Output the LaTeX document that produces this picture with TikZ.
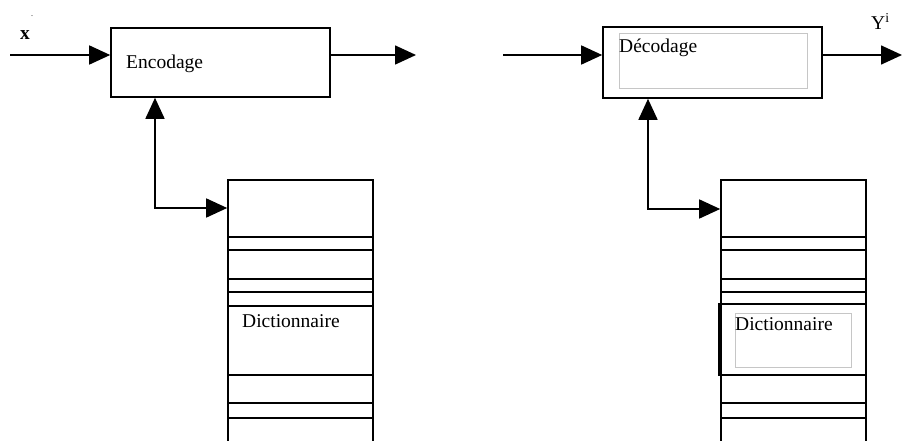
\documentclass[tikz,border=0pt]{standalone}
\usepackage{fontspec}
\setmainfont{Liberation Serif}
\usetikzlibrary{arrows.meta,calc}
\begin{document}
\begin{tikzpicture}[x=1pt,y=-1pt,
  box/.style={draw,line width=1.6pt,rectangle,inner sep=0pt},
  inner/.style={draw=gray!45,line width=1pt},
  wire/.style={line width=1.6pt},
  arr/.style={wire,-{Triangle[length=21pt,width=19pt]}},
  darr/.style={wire,{Triangle[length=21pt,width=19pt]}-{Triangle[length=21pt,width=19pt]}},
  lbl/.style={font=\fontsize{19.5}{21}\selectfont,inner sep=0pt},
  sep/.style={line width=1.6pt}]
\useasboundingbox (0,0) rectangle (902,441);
\clip (0,0) rectangle (902,441);
% ---------- left: encodage ----------
\node[box,minimum width=219pt,minimum height=69pt] (enc) at (220.5,62.5) {};
\node[lbl,anchor=base west] (enct) at (126,69) {Encodage};
\coordinate (in1) at (10,55);
\coordinate (out1) at (416,55);
\draw[arr] (in1) -- (in1 -| enc.west);
\draw[arr] (out1 -| enc.east) -- (out1);
\node[lbl,anchor=base west] (xl) at (20,40) {\textbf{x}};
\node[inner sep=0pt,font=\fontsize{8}{8}\selectfont] (xdot) at (32,16) {.};
% dictionary left
\node[box,minimum width=145pt,minimum height=270pt] (dict1) at (300.5,315) {};
\foreach \y in {237,250,279,292,306,375,403,418}
  \draw[sep] (dict1.west |- 0,\y) -- (dict1.east |- 0,\y);
\node[lbl,anchor=base west] (d1t) at (242,327) {Dictionnaire};
\coordinate (c1) at (155,208);
\draw[darr] (enc.south -| c1) |- (dict1.west |- c1);
% ---------- right: decodage ----------
\node[box,minimum width=219pt,minimum height=71pt] (dec) at (712.5,62.5) {};
\draw[inner] (619,34) rectangle (807,89);
\node[lbl,anchor=base west] (dect) at (619,53) {Décodage};
\coordinate (in2) at (503,55);
\coordinate (out2) at (902,55);
\draw[arr] (in2) -- (in2 -| dec.west);
\draw[arr] (out2 -| dec.east) -- (out2);
\node[lbl,anchor=base west] (yl) at (871,30) {Y\textsuperscript{i}};
% dictionary right
\node[box,minimum width=145pt,minimum height=270pt] (dict2) at (793.5,315) {};
\foreach \y in {237,250,279,292,403,418}
  \draw[sep] (dict2.west |- 0,\y) -- (dict2.east |- 0,\y);
\node[box,minimum width=147pt,minimum height=71pt] (dbox) at (792.5,339.5) {};
\draw[inner] (735,313) rectangle (851,367);
\node[lbl,anchor=base west] (d2t) at (735,330) {Dictionnaire};
\coordinate (c2) at (648,209);
\draw[darr] (dec.south -| c2) |- (dict2.west |- c2);
\end{tikzpicture}
\end{document}
